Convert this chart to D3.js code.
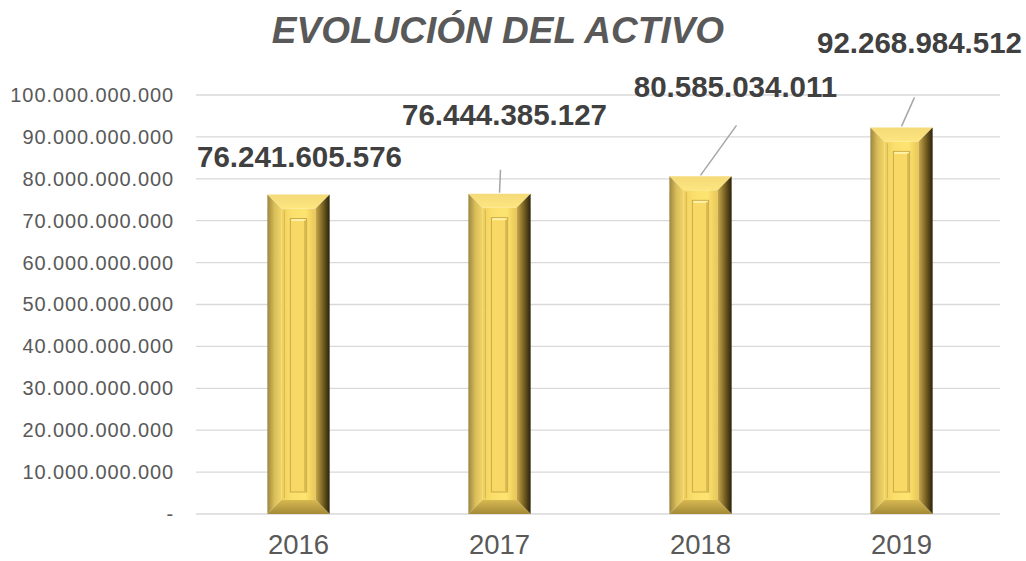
<!DOCTYPE html>
<head>
<meta charset="utf-8">
<script src="https://d3js.org/d3.v7.min.js"></script>
<style>
  body { margin: 0; background: #fff; }
  .axis text { font-family: Arial, "Liberation Sans", sans-serif; }
</style>
</head>
<body>
<div class="chart"></div>
<script>
  var years = ['2016', '2017', '2018', '2019'];
  var activo = [76241605576, 76444385127, 80585034011, 92268984512];
  var yTicks = [0, 10e9, 20e9, 30e9, 40e9, 50e9, 60e9, 70e9, 80e9, 90e9, 100e9];
  // label offsets from bar top centre: text (dx, dy baseline), leader line start (lx, ly)
  var labelPos = [
    {dx: 1, dy: -28, line: null},
    {dx: 5, dy: -69, line: [1, -24]},
    {dx: 35, dy: -79, line: [36, -51]},
    {dx: 18, dy: -74, line: [13, -30]}
  ];

  var width = 1026, height = 561;
  var margin = {top: 95, right: 26, bottom: 47, left: 196};

  var svg = d3.select('.chart').append('svg')
      .attr('width', width)
      .attr('height', height);

  var x = d3.scaleBand()
      .domain(years)
      .range([margin.left + 2, width - margin.right + 2])
      .paddingInner(0.69)
      .paddingOuter(0.345);

  var y = d3.scaleLinear()
      .domain([0, 100e9])
      .range([height - margin.bottom, margin.top]);

  var fmt = function(v) {
    if (v === 0) return '-';
    return d3.format(',')(v).replace(/,/g, '.');
  };

  // gradients
  var defs = svg.append('defs');
  function grad(id, x1, y1, x2, y2, stops) {
    var g = defs.append('linearGradient').attr('id', id)
      .attr('x1', x1).attr('y1', y1).attr('x2', x2).attr('y2', y2);
    stops.forEach(function(s) {
      g.append('stop').attr('offset', s[0]).attr('stop-color', s[1]);
    });
  }
  grad('gTop', 0, 0, 0, 1, [[0, '#f4da78'], [1, '#fde57f']]);
  grad('gLeft', 0, 0, 1, 0, [[0, '#9b8640'], [0.5, '#d8bd5a'], [1, '#f2d465']]);
  grad('gRight', 0, 0, 1, 0, [[0, '#c9a84a'], [0.5, '#7a6424'], [1, '#2a220a']]);
  grad('gBottom', 0, 0, 0, 1, [[0, '#d7b850'], [1, '#a48a38']]);
  grad('gFace', 0, 0, 1, 0, [[0, '#efcf5c'], [0.3, '#fbdf6c'], [0.7, '#fde470'], [1, '#e8c655']]);

  // grid
  svg.append('g')
    .attr('class', 'grid')
    .selectAll('line')
    .data(yTicks)
    .enter().append('line')
    .attr('x1', margin.left)
    .attr('x2', width - margin.right)
    .attr('y1', function(d) { return y(d); })
    .attr('y2', function(d) { return y(d); })
    .attr('stroke', '#d9d9d9')
    .attr('stroke-width', 1.3);

  // y axis
  var yAxis = d3.axisLeft(y).tickValues(yTicks).tickFormat(fmt).tickSize(0).tickPadding(22);
  svg.append('g')
    .attr('class', 'y axis')
    .attr('transform', 'translate(' + margin.left + ',0)')
    .call(yAxis)
    .call(function(g) { g.select('.domain').remove(); })
    .selectAll('text')
    .attr('font-size', '20px')
    .attr('letter-spacing', '0.9px')
    .attr('fill', '#595959');

  // x axis
  var xAxis = d3.axisBottom(x).tickSize(0).tickPadding(20);
  svg.append('g')
    .attr('class', 'x axis')
    .attr('transform', 'translate(0,' + y(0) + ')')
    .call(xAxis)
    .call(function(g) { g.select('.domain').remove(); })
    .selectAll('text')
    .attr('font-size', '27.5px')
    .attr('fill', '#595959');

  // bars
  var b = 14;
  var bars = svg.selectAll('.bar')
    .data(years)
    .enter().append('g')
    .attr('class', 'bar');

  bars.each(function(d, i) {
    var g = d3.select(this);
    var x0 = x(d), x1 = x(d) + x.bandwidth();
    var y0 = y(activo[i]), y1 = y(0);
    function poly(pts, fill) {
      g.append('polygon')
        .attr('points', pts.map(function(p) { return p.join(','); }).join(' '))
        .attr('fill', fill);
    }
    poly([[x0 + b, y0 + b], [x1 - b, y0 + b], [x1 - b, y1 - b], [x0 + b, y1 - b]], 'url(#gFace)');
    poly([[x0, y0], [x1, y0], [x1 - b, y0 + b], [x0 + b, y0 + b]], 'url(#gTop)');
    poly([[x0, y0], [x0 + b, y0 + b], [x0 + b, y1 - b], [x0, y1]], 'url(#gLeft)');
    poly([[x1, y0], [x1, y1], [x1 - b, y1 - b], [x1 - b, y0 + b]], 'url(#gRight)');
    poly([[x0, y1], [x0 + b, y1 - b], [x1 - b, y1 - b], [x1, y1]], 'url(#gBottom)');

    // inner groove frame
    var ix0 = x0 + b + 9, ix1 = x1 - b - 9;
    var iy0 = y0 + b + 10, iy1 = y1 - b - 8;
    g.append('rect')
      .attr('x', ix0).attr('y', iy0)
      .attr('width', ix1 - ix0).attr('height', iy1 - iy0)
      .attr('fill', '#f8d965')
      .attr('stroke', '#c9a848').attr('stroke-width', 1);
    g.append('line')
      .attr('x1', ix0 + 1).attr('x2', ix1 - 1)
      .attr('y1', iy0 + 1.5).attr('y2', iy0 + 1.5)
      .attr('stroke', '#fff2a8').attr('stroke-width', 2);
    g.append('line')
      .attr('x1', ix1 - 1.5).attr('x2', ix1 - 1.5)
      .attr('y1', iy0 + 2).attr('y2', iy1 - 1)
      .attr('stroke', '#d9b94f').attr('stroke-width', 2);
    g.append('line')
      .attr('x1', x0 + b + 3).attr('x2', x0 + b + 3)
      .attr('y1', y0 + b + 2).attr('y2', y1 - b - 2)
      .attr('stroke', '#d6b64e').attr('stroke-width', 1);
  });

  // data labels
  labelPos.forEach(function(p, i) {
    var cx = x(years[i]) + x.bandwidth() / 2;
    var top = y(activo[i]);
    if (p.line) {
      svg.append('line')
        .attr('x1', cx + p.line[0]).attr('y1', top + p.line[1])
        .attr('x2', cx).attr('y2', top - 1)
        .attr('stroke', '#a6a6a6').attr('stroke-width', 1.5);
    }
    svg.append('text')
      .attr('x', cx + p.dx)
      .attr('y', top + p.dy)
      .attr('text-anchor', 'middle')
      .attr('font-family', 'Arial, "Liberation Sans", sans-serif')
      .attr('font-weight', 'bold')
      .attr('font-size', '29.5px')
      .attr('fill', '#404040')
      .text(fmt(activo[i]));
  });

  svg.append('text')
    .attr('x', 498)
    .attr('y', 43)
    .attr('text-anchor', 'middle')
    .attr('font-family', 'Arial, "Liberation Sans", sans-serif')
    .attr('font-weight', 'bold')
    .attr('font-style', 'italic')
    .attr('font-size', '37px')
    .attr('fill', '#595959')
    .text('EVOLUCIÓN DEL ACTIVO');
</script>
</body>
